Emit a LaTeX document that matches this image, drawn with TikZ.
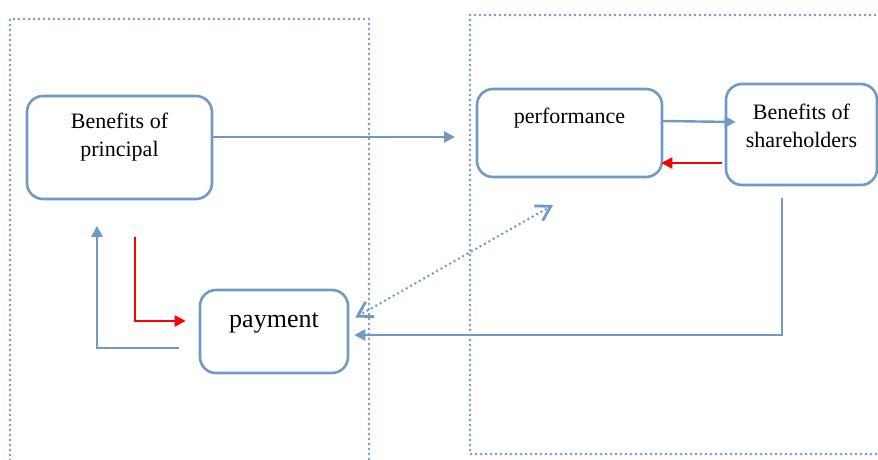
\documentclass[tikz,border=0pt]{standalone}
\usepackage{fontspec}
\setmainfont{Liberation Serif}
\usetikzlibrary{arrows.meta,calc}
\definecolor{lblue}{RGB}{112,153,196}
\definecolor{lred}{RGB}{255,0,0}
\tikzset{
  box/.style={draw=lblue,line width=1.3pt,rounded corners=8pt,fill=white,inner sep=0pt},
  txt/.style={align=center,inner sep=0pt,font=\fontsize{11}{14}\selectfont},
  conn/.style={draw=lblue,line width=1.2pt,-{Triangle[length=5.5pt,width=5.5pt]}},
  redconn/.style={draw=lred,line width=1.2pt,-{Triangle[length=5.5pt,width=5.5pt]}},
  frame/.style={draw=lblue,line width=1.3pt,line cap=round,dash pattern=on 0pt off 2.5pt},
  dotarrow/.style={draw=lblue,line width=1.4pt,line cap=round,dash pattern=on 0pt off 2.5pt,
     {Straight Barb[length=7pt,width=8.5pt,line cap=butt]}-{Straight Barb[length=7pt,width=8.5pt,line cap=butt]}}
}
\begin{document}
\begin{tikzpicture}[x=0.5pt,y=-0.5pt]
\useasboundingbox (0,0) rectangle (878,460);
\clip (0,0) rectangle (878,460);
% frames
\coordinate (fl1) at (10,470);
\coordinate (fl2) at (10,19);
\coordinate (fl3) at (369,19);
\coordinate (fl4) at (369,470);
\draw[frame] (fl1) -- (fl2) -- (fl3) -- (fl4);
\coordinate (fr1) at (890,15);
\coordinate (fr2) at (470,15);
\coordinate (fr3) at (470,454);
\coordinate (fr4) at (890,454);
\draw[frame] (fr1) -- (fr2) -- (fr3) -- (fr4);
% boxes
\node[box,minimum width=92.5pt,minimum height=51.5pt] (bp) at (119.5,147.5) {};
\node[box,minimum width=92.5pt,minimum height=44pt] (perf) at (569.5,133) {};
\node[box,minimum width=75.5pt,minimum height=50.5pt] (sh) at (801.5,134.5) {};
\node[box,minimum width=74pt,minimum height=41.5pt] (pay) at (274,331.5) {};
% texts
\node[txt] (bpt) at ($(bp.center)+(0,-10)$) {Benefits of\\principal};
\node[txt] (perft) at ($(perf.center)+(0,-15)$) {performance};
\node[txt] (sht) at ($(sh.center)+(0,-9)$) {Benefits of\\shareholders};
\node[txt,font=\fontsize{13}{16}\selectfont] (payt) at ($(pay.center)+(0,-9)$) {payment};
% connectors
\coordinate (a1) at (455,137);
\draw[conn] (bp.east |- a1) -- (a1);
\draw[conn] ($(perf.east)+(-2,-12)$) -- ($(sh.west)+(11,-12.5)$);
\draw[redconn] ($(sh.west)+(-3,28.5)$) -- ($(perf.east)+(-2,30)$);
\draw[conn] ($(sh.south)+(-19.5,12)$) |- ($(pay.east)+(5,3.5)$);
\coordinate (d1) at (553,205);
\draw[dotarrow] ($(pay.east)+(6,-14)$) -- (d1);
\draw[redconn] ($(bp.south)+(15.5,36.5)$) |- ($(pay.west)+(-13,-10.5)$);
\draw[conn] ($(pay.west)+(-20,16.5)$) -| ($(bp.south)+(-22.5,25.5)$);
\end{tikzpicture}
\end{document}
